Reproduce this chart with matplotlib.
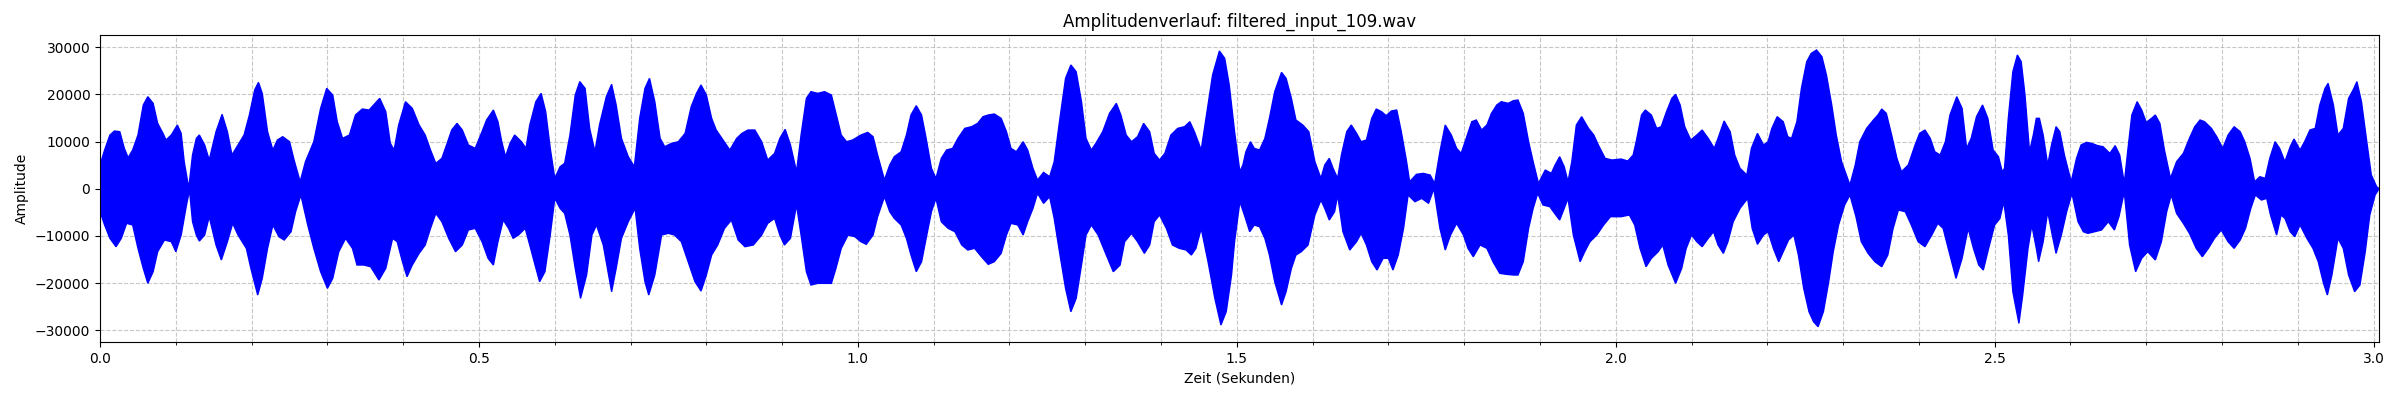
import numpy as np
import matplotlib
matplotlib.use("Agg")
import matplotlib.pyplot as plt
from matplotlib.ticker import MultipleLocator

title = "Amplitudenverlauf: filtered_input_109.wav"
duration = 3.0073

# Upper envelope (time in s, amplitude)
t_up = [0.000, 0.006, 0.013, 0.019, 0.026, 0.032, 0.037, 0.043, 0.050, 0.057, 0.063, 0.070, 0.076, 0.083, 0.087, 0.094,
        0.102, 0.107, 0.111, 0.117, 0.122, 0.127, 0.131, 0.138, 0.144, 0.153, 0.161, 0.168, 0.174, 0.182, 0.190, 0.197,
        0.204, 0.209, 0.214, 0.221, 0.228, 0.234, 0.241, 0.250, 0.256, 0.264, 0.271, 0.282, 0.291, 0.299, 0.307, 0.313,
        0.320, 0.329, 0.337, 0.346, 0.355, 0.361, 0.369, 0.377, 0.383, 0.388, 0.394, 0.403, 0.412, 0.421, 0.429, 0.436,
        0.443, 0.451, 0.458, 0.464, 0.471, 0.478, 0.486, 0.495,
        0.504, 0.510, 0.519, 0.525, 0.530, 0.535, 0.541, 0.547, 0.556, 0.562, 0.567, 0.575, 0.582, 0.588, 0.594, 0.600,
        0.607, 0.613, 0.620, 0.627, 0.633, 0.640, 0.646, 0.653, 0.659, 0.668, 0.675, 0.681, 0.688, 0.697, 0.705, 0.712,
        0.719, 0.725, 0.732, 0.739, 0.745, 0.754, 0.763, 0.772, 0.780, 0.787, 0.793, 0.800, 0.807, 0.813, 0.822, 0.831,
        0.840, 0.847, 0.855, 0.864, 0.873, 0.881, 0.890, 0.897, 0.904, 0.911, 0.919, 0.925, 0.932, 0.938, 0.947, 0.956,
        0.965, 0.971, 0.978, 0.985, 0.993,
        1.004, 1.013, 1.020, 1.026, 1.035, 1.042, 1.048, 1.057, 1.064, 1.070, 1.077, 1.084, 1.090, 1.097, 1.103, 1.110,
        1.117, 1.125, 1.132, 1.141, 1.150, 1.158, 1.165, 1.172, 1.180, 1.189, 1.196, 1.202, 1.209, 1.218, 1.224, 1.231,
        1.237, 1.245, 1.253, 1.259, 1.266, 1.274, 1.281, 1.288, 1.295, 1.301, 1.308, 1.314, 1.323, 1.332, 1.341, 1.347,
        1.354, 1.361, 1.369, 1.377, 1.385, 1.391, 1.398, 1.405, 1.413, 1.422, 1.431, 1.438, 1.444, 1.453, 1.460, 1.468,
        1.477, 1.484, 1.490,
        1.497, 1.504, 1.508, 1.512, 1.518, 1.523, 1.530, 1.537, 1.543, 1.550, 1.559, 1.565, 1.572, 1.578, 1.587, 1.595,
        1.603, 1.611, 1.616, 1.622, 1.627, 1.633, 1.638, 1.645, 1.651, 1.658, 1.664, 1.671, 1.678, 1.684, 1.691, 1.697,
        1.704, 1.711, 1.717, 1.724, 1.728, 1.737, 1.746, 1.755, 1.761, 1.768, 1.775, 1.783, 1.790, 1.796, 1.802, 1.810,
        1.816, 1.823, 1.830, 1.836, 1.843, 1.849, 1.858, 1.865, 1.871, 1.878, 1.885, 1.891, 1.898, 1.907, 1.915, 1.920,
        1.926, 1.932, 1.937, 1.942, 1.948, 1.955, 1.964, 1.971, 1.977, 1.986, 1.995,
        2.007, 2.016, 2.023, 2.027, 2.034, 2.039, 2.047, 2.054, 2.060, 2.067, 2.074, 2.079, 2.085, 2.091, 2.099, 2.107,
        2.114, 2.122, 2.130, 2.135, 2.143, 2.151, 2.157, 2.164, 2.173, 2.179, 2.187, 2.195, 2.201, 2.206, 2.213, 2.221,
        2.227, 2.232, 2.239, 2.245, 2.252, 2.258, 2.265, 2.272, 2.278, 2.285, 2.291, 2.298, 2.309, 2.316, 2.322, 2.331,
        2.340, 2.346, 2.351, 2.357, 2.364, 2.371, 2.377, 2.386, 2.395, 2.401, 2.408, 2.415, 2.421, 2.428, 2.435, 2.441,
        2.450, 2.457, 2.463, 2.469, 2.476, 2.484, 2.491, 2.498,
        2.505, 2.510, 2.513, 2.518, 2.524, 2.530, 2.535, 2.540, 2.546, 2.551, 2.555, 2.559, 2.564, 2.570, 2.575, 2.581,
        2.586, 2.592, 2.601, 2.608, 2.614, 2.621, 2.628, 2.636, 2.643, 2.652, 2.659, 2.665, 2.671, 2.676, 2.681, 2.688,
        2.694, 2.700, 2.707, 2.712, 2.718, 2.724, 2.732, 2.740, 2.749, 2.757, 2.764, 2.771, 2.777, 2.786, 2.793, 2.801,
        2.808, 2.816, 2.824, 2.830, 2.837, 2.843, 2.850, 2.857, 2.863, 2.870, 2.876, 2.883, 2.890, 2.895, 2.903, 2.909,
        2.916, 2.923, 2.929, 2.936, 2.940, 2.947, 2.953, 2.960, 2.967, 2.973, 2.978, 2.984, 2.991, 2.997, 3.004, 3.0073]
a_up = [5000, 8200, 11380, 12230, 12080, 8550, 6570, 8200, 11380, 17740, 19500, 18090, 13850, 11730, 10320, 11380,
        13500, 11730, 5720, 100, 7140, 10670, 11380, 9260, 6080, 12080, 15760, 12080, 7140, 9260, 11380, 15620,
        20920, 22540, 20210, 12080, 8200, 10320, 11020, 9960, 6080, 1480, 5720, 9960, 17030, 21270, 19860, 14200,
        10670, 11380, 15620, 16890, 16680, 17740, 19150, 16320, 9610, 8200, 13500, 18440, 17030, 13500, 11380, 8200,
        5370, 6430, 9610, 12440, 13850, 12440, 9260, 8550,
        12080, 14560, 16680, 14200, 9960, 6780, 9610, 11380, 9960, 8550, 13500, 18440, 20210, 16320, 8550, 2190,
        4660, 5370, 11380, 19860, 22690, 21270, 12790, 7840, 13500, 19500, 22120, 17740, 10670, 6780, 4660, 14910,
        21270, 23390, 18440, 10670, 8900, 9610, 9960, 11730, 17380, 20210, 21980, 19860, 14910, 12440, 10320, 8200,
        10670, 11730, 12440, 12440, 9960, 6080, 7490, 10670, 12580, 9260, 3600, 11380, 19150, 20570, 20210, 20570,
        19860, 15970, 11380, 9960, 10320,
        11380, 11940, 11020, 7140, 1840, 5020, 6780, 7840, 11380, 15620, 17600, 15620, 10670, 4310, 2190, 6430,
        8200, 8550, 10670, 12790, 13140, 13850, 15260, 15620, 15830, 14910, 12080, 8550, 7840, 9960, 8200, 4310,
        1840, 3460, 2540, 5720, 14200, 23390, 26220, 24800, 18440, 10670, 8200, 9610, 12080, 15970, 18090, 15620,
        11380, 9960, 11020, 13850, 12080, 7490, 6080, 7490, 11380, 12790, 13140, 14200, 12080, 8200, 15620, 24100,
        29190, 27630, 21980,
        12080, 3600, 5020, 7840, 9960, 8550, 8200, 10670, 14910, 20570, 24660, 23390, 19150, 14560, 13500, 12080,
        5720, 2190, 5020, 6430, 4310, 2190, 7140, 12080, 13500, 11730, 9960, 10320, 14910, 16890, 16320, 15480,
        16470, 16680, 12080, 5720, 1480, 3040, 3250, 2900, 1130, 7840, 13500, 11380, 8550, 7490, 10320, 14200,
        14560, 12440, 13500, 15970, 17740, 18440, 18090, 18660, 18800, 15970, 9960, 5720, 1130, 3960, 3250, 5020,
        6780, 4660, 1480, 5720, 13500, 15260, 12790, 11380, 9260, 6430, 6080,
        6290, 5870, 7140, 9960, 15620, 16680, 15620, 12790, 13140, 16320, 19150, 20000, 17740, 13140, 10320, 11380,
        12440, 10670, 8550, 10670, 14350, 12080, 7140, 4310, 2900, 8550, 11730, 9260, 9960, 12790, 15260, 14200,
        11020, 10670, 14200, 21270, 26930, 28690, 29400, 27990, 24100, 17740, 11380, 5720, 780, 5020, 9960, 12790,
        14560, 15620, 16890, 15970, 11380, 6430, 3600, 5020, 9260, 11730, 12440, 10670, 7840, 7140, 9960, 15620,
        19500, 17030, 8550, 10670, 15260, 17740, 14910, 8200,
        6780, 3600, 4310, 14910, 24800, 28340, 26930, 19860, 7840, 11380, 14910, 14910, 11380, 5020, 9260, 13140,
        12080, 7140, 1480, 6430, 9260, 9820, 9610, 9120, 8900, 7490, 9120, 7140, 1130, 8550, 15620, 18440,
        16680, 14060, 14910, 15620, 13850, 8200, 2190, 5720, 7490, 10670, 13140, 14560, 14200, 12790, 11020, 8550,
        11380, 13140, 12080, 9960, 6430, 1480, 2540, 2190, 6430, 9960, 8550, 5720, 8900, 10530, 8200, 9960,
        12440, 12790, 17740, 21270, 22330, 17740, 11380, 12790, 19150, 20920, 22690, 18440, 9960, 2900, 420, 0]

# Lower envelope (time in s, amplitude)
t_lo = [0.000, 0.006, 0.013, 0.021, 0.028, 0.035, 0.043, 0.050, 0.057, 0.063, 0.070, 0.076, 0.085, 0.094, 0.100, 0.107,
        0.114, 0.118, 0.122, 0.127, 0.131, 0.138, 0.144, 0.153, 0.160, 0.168, 0.175, 0.182, 0.193, 0.199, 0.208, 0.214,
        0.221, 0.228, 0.236, 0.243, 0.252, 0.258, 0.265, 0.274, 0.282, 0.291, 0.300, 0.307, 0.315, 0.324, 0.333, 0.339,
        0.348, 0.357, 0.368, 0.377, 0.386, 0.392, 0.399, 0.405, 0.412, 0.421, 0.429, 0.436, 0.443, 0.451, 0.460, 0.469,
        0.478, 0.486, 0.495,
        0.504, 0.512, 0.519, 0.525, 0.532, 0.539, 0.545, 0.552, 0.561, 0.567, 0.574, 0.580, 0.587, 0.594, 0.600, 0.607,
        0.613, 0.620, 0.627, 0.634, 0.642, 0.649, 0.655, 0.664, 0.675, 0.681, 0.688, 0.697, 0.706, 0.712, 0.719, 0.724,
        0.732, 0.741, 0.750, 0.758, 0.767, 0.776, 0.785, 0.793, 0.800, 0.807, 0.815, 0.824, 0.833, 0.842, 0.851, 0.862,
        0.873, 0.881, 0.890, 0.897, 0.903, 0.911, 0.919, 0.925, 0.932, 0.938, 0.947, 0.956, 0.965, 0.971, 0.978, 0.987,
        0.996,
        1.004, 1.011, 1.020, 1.026, 1.035, 1.042, 1.048, 1.057, 1.064, 1.070, 1.077, 1.084, 1.090, 1.097, 1.103, 1.110,
        1.119, 1.128, 1.137, 1.145, 1.154, 1.163, 1.172, 1.180, 1.189, 1.196, 1.202, 1.211, 1.218, 1.224, 1.231, 1.237,
        1.245, 1.253, 1.259, 1.266, 1.274, 1.281, 1.288, 1.295, 1.301, 1.308, 1.317, 1.326, 1.337, 1.346, 1.352, 1.361,
        1.369, 1.378, 1.385, 1.391, 1.398, 1.407, 1.415, 1.424, 1.433, 1.440, 1.446, 1.453, 1.462, 1.471, 1.479, 1.486,
        1.493,
        1.497, 1.504, 1.510, 1.517, 1.523, 1.530, 1.537, 1.543, 1.550, 1.559, 1.565, 1.572, 1.578, 1.585, 1.594, 1.603,
        1.611, 1.616, 1.622, 1.629, 1.633, 1.640, 1.649, 1.658, 1.664, 1.671, 1.678, 1.685, 1.693, 1.700, 1.706, 1.713,
        1.720, 1.726, 1.735, 1.744, 1.753, 1.760, 1.768, 1.775, 1.782, 1.790, 1.799, 1.805, 1.812, 1.821, 1.830, 1.838,
        1.847, 1.856, 1.865, 1.871, 1.878, 1.885, 1.891, 1.897, 1.904, 1.913, 1.921, 1.926, 1.932, 1.937, 1.944, 1.953,
        1.959, 1.966, 1.975, 1.984, 1.993,
        2.007, 2.018, 2.025, 2.032, 2.040, 2.047, 2.056, 2.062, 2.069, 2.079, 2.087, 2.093, 2.100, 2.107, 2.114, 2.122,
        2.129, 2.135, 2.142, 2.148, 2.155, 2.164, 2.174, 2.180, 2.187, 2.195, 2.201, 2.208, 2.215, 2.221, 2.228, 2.235,
        2.241, 2.248, 2.255, 2.261, 2.267, 2.274, 2.281, 2.287, 2.294, 2.302, 2.309, 2.317, 2.324, 2.333, 2.342, 2.351,
        2.359, 2.366, 2.373, 2.382, 2.390, 2.399, 2.408, 2.417, 2.425, 2.432, 2.441, 2.449, 2.457, 2.465, 2.472, 2.479,
        2.485, 2.492, 2.500,
        2.507, 2.512, 2.518, 2.524, 2.532, 2.537, 2.544, 2.549, 2.555, 2.558, 2.564, 2.570, 2.576, 2.581, 2.588, 2.595,
        2.602, 2.610, 2.617, 2.623, 2.632, 2.641, 2.650, 2.658, 2.664, 2.671, 2.678, 2.686, 2.694, 2.702, 2.712, 2.720,
        2.727, 2.733, 2.740, 2.749, 2.757, 2.766, 2.774, 2.782, 2.790, 2.799, 2.808, 2.816, 2.824, 2.831, 2.838, 2.844,
        2.852, 2.859, 2.864, 2.872, 2.878, 2.883, 2.890, 2.896, 2.903, 2.912, 2.920, 2.927, 2.934, 2.939, 2.945, 2.953,
        2.960, 2.967, 2.975, 2.982, 2.989, 2.995, 3.002, 3.0073]
a_lo = [-4880, -7700, -10530, -12300, -10530, -7350, -7700, -12650, -16890, -20070, -17600, -13360, -10880, -11240, -13360, -9820,
        -3460, -280, -7000, -9820, -11100, -9820, -5940, -11940, -15120, -11240, -7350, -9820, -12650, -16890, -22540, -19010,
        -12650, -7700, -10180, -10880, -9120, -4880, -1340, -7700, -12650, -17600, -21130, -19010, -13360, -10530, -12650, -16180,
        -16180, -16540, -19360, -16890, -10530, -11240, -15480, -18660, -16180, -13710, -11940, -8410, -5230, -7000, -10530, -13360,
        -11940, -8760, -8410,
        -11240, -14770, -16180, -11240, -6640, -8410, -10530, -9820, -8410, -11940, -16180, -19720, -17600, -9820, -2050, -4170,
        -5230, -9820, -16890, -23250, -18300, -9820, -7700, -11940, -21840, -16890, -10530, -7000, -4170, -12650, -19720, -22540,
        -18300, -9820, -9470, -9820, -11240, -15480, -19720, -21700, -18300, -14060, -11940, -8410, -6640, -10880, -12300, -11940,
        -9820, -7350, -6290, -9820, -11940, -10530, -3460, -9820, -17600, -20420, -20070, -20070, -20070, -16890, -12650, -9820,
        -10180,
        -11240, -11800, -9820, -5940, -1700, -4880, -6290, -7700, -10530, -14060, -17600, -15480, -10530, -4880, -2050, -7000,
        -8410, -9120, -11940, -13000, -12650, -14420, -16040, -15480, -13710, -9820, -7350, -7700, -9820, -7000, -4170, -990,
        -3110, -1700, -6290, -13360, -21130, -26080, -23250, -16180, -9820, -7700, -9820, -13360, -17600, -16180, -11240, -9470,
        -11240, -13710, -11940, -7000, -5580, -8410, -11940, -12650, -13000, -14060, -12650, -8410, -15480, -23250, -28900, -26080,
        -18300,
        -11240, -2760, -5580, -9120, -7700, -8060, -10530, -14060, -19720, -24660, -21840, -16890, -14060, -13360, -11940, -5580,
        -2400, -4170, -6640, -4880, -1340, -9120, -13000, -11240, -9470, -11940, -15480, -17240, -14770, -14770, -17240, -14060,
        -8410, -1340, -2760, -2050, -3110, 0, -8410, -13000, -9820, -7350, -9820, -12650, -14420, -11940, -12650, -15480,
        -17950, -18160, -18300, -18300, -15480, -8410, -4170, -990, -3460, -3820, -5580, -6640, -4170, -2050, -9820, -15480,
        -13360, -11240, -9820, -7700, -5940,
        -5940, -5580, -7700, -12650, -16540, -14770, -13360, -11940, -16180, -20070, -16890, -12650, -9820, -11240, -12300, -10530,
        -9120, -11940, -13710, -11240, -7000, -4170, -2050, -8410, -11800, -9820, -9120, -12650, -15480, -13360, -10880, -9820,
        -14060, -21130, -26080, -28200, -29260, -26080, -19720, -13360, -7700, -3460, -1340, -5940, -11240, -13710, -15480, -16540,
        -14060, -8410, -4520, -4880, -7700, -11240, -12300, -9820, -7350, -8410, -14060, -19010, -14770, -8410, -12650, -16180,
        -17240, -12650, -7700,
        -6290, -2760, -9820, -21840, -28550, -22540, -12650, -7700, -12650, -15480, -11240, -4880, -9820, -13710, -9820, -4880,
        -990, -7000, -9120, -9470, -9120, -8760, -7000, -8760, -5940, -640, -11940, -17600, -14770, -13360, -15120, -11240,
        -4880, -1340, -5230, -7350, -9470, -12650, -14420, -12650, -10530, -8760, -11240, -12650, -10880, -8410, -4170, -1340,
        -2400, -2050, -5580, -9820, -5580, -6290, -9120, -10180, -7700, -10530, -12650, -15480, -20070, -22540, -18300, -10530,
        -12650, -18300, -21840, -20420, -13360, -5580, -1340, 0]

fig, ax = plt.subplots(figsize=(24, 4), dpi=100)
fig.subplots_adjust(left=0.0417, right=0.9913, top=0.9125, bottom=0.145)

poly_t = np.concatenate([np.array(t_up), np.array(t_lo)[::-1]])
poly_a = np.concatenate([np.array(a_up), np.array(a_lo)[::-1]])
ax.fill(poly_t, poly_a, facecolor="blue", edgecolor="blue", linewidth=1.0)

ax.set_xlim(0, duration)
ax.set_ylim(-32500, 32580)
ax.xaxis.set_major_locator(MultipleLocator(0.5))
ax.xaxis.set_minor_locator(MultipleLocator(0.1))
ax.yaxis.set_major_locator(MultipleLocator(10000))
ax.grid(True, which="both", linestyle="--", alpha=0.7)
ax.set_axisbelow(True)

ax.set_title(title)
ax.set_xlabel("Zeit (Sekunden)")
ax.set_ylabel("Amplitude")

fig.savefig("out.png", dpi=100)
